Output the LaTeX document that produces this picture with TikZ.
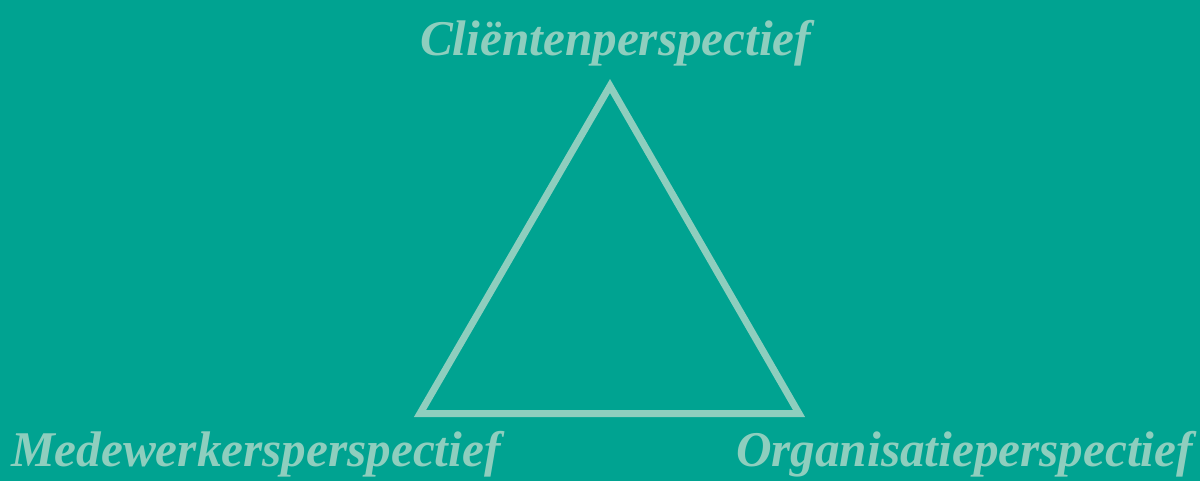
\documentclass[tikz,border=0pt]{standalone}
\usepackage{fontspec}
\setmainfont{Liberation Serif}
\definecolor{bgteal}{RGB}{0,163,145}
\definecolor{mint}{RGB}{142,206,190}
\tikzset{
  persp/.style={inner sep=0pt, outer sep=0pt, anchor=base west, text=mint,
    font=\fontsize{50}{50}\selectfont\bfseries\itshape, xscale=0.985},
  triline/.style={draw=mint, line width=7pt, line join=miter}
}
\begin{document}
\begin{tikzpicture}[x=1pt,y=-1pt]
\fill[bgteal] (0,0) rectangle (1200,481);
\useasboundingbox (0,0) rectangle (1200,481);
\coordinate (apex) at (610,86);
\coordinate (bl) at (420,413.5);
\coordinate (br) at (799,413.5);
\draw[triline] (apex) -- (bl) -- (br) -- cycle;
\node[persp] (client) at (420,56) {Cliëntenperspectief};
\node[persp] (medew) at (11,466) {Medewerkersperspectief};
\node[persp] (organ) at (736,466) {Organisatieperspectief};
\end{tikzpicture}
\end{document}
